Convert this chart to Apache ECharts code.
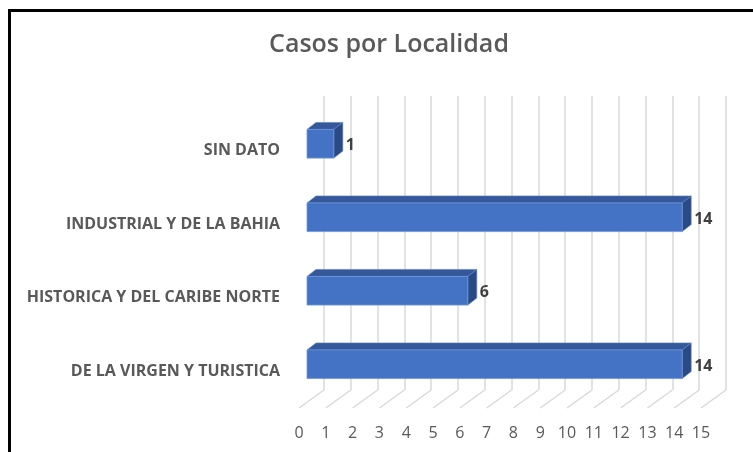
<!DOCTYPE html>
<html>
<head>
<meta charset="utf-8">
<script src="https://cdn.jsdelivr.net/npm/echarts@6/dist/echarts.min.js"></script>
<style>
html, body { margin: 0; padding: 0; background: #fff; }
#main { width: 753px; height: 452px; }
</style>
</head>
<body>
<div id="main"></div>
<script>
// datos del grafico
var localidades = ['SIN DATO', 'INDUSTRIAL Y DE LA BAHIA', 'HISTORICA Y DEL CARIBE NORTE', 'DE LA VIRGEN Y TURISTICA'];
var casos = [1, 14, 6, 14];
var ticks = [0, 1, 2, 3, 4, 5, 6, 7, 8, 9, 10, 11, 12, 13, 14, 15];

var chart = echarts.init(document.getElementById('main'));

// profundidad del "3D": pared del fondo vs plano frontal
var DX = 25, DY = 18;

function renderFloor(params, api) {
    var cs = params.coordSys;
    var x = api.coord([api.value(0), 0])[0];
    var yb = cs.y + cs.height;
    return {
        type: 'line',
        shape: { x1: x, y1: yb, x2: x - DX, y2: yb + DY },
        style: { stroke: '#d9d9d9', lineWidth: 1.5 }
    };
}

function renderBar(params, api) {
    var p0 = api.coord([0, api.value(1)]);
    var p1 = api.coord([api.value(0), api.value(1)]);
    var h = api.size([0, 1])[1] * 0.39;
    var x0 = p0[0] + 8, x1 = p1[0] + 8;
    var yc = p0[1] - 7;
    var yt = yc - h / 2, yb = yc + h / 2;
    var dx = 9, dy = -7;
    return {
        type: 'group',
        children: [
            {
                type: 'polygon',
                shape: { points: [[x0, yt], [x0 + dx, yt + dy], [x1 + dx, yt + dy], [x1, yt]] },
                style: { fill: '#34589a', stroke: '#5b80c4', lineWidth: 0.6 }
            },
            {
                type: 'polygon',
                shape: { points: [[x1, yt], [x1 + dx, yt + dy], [x1 + dx, yb + dy], [x1, yb]] },
                style: { fill: '#2a4a85', stroke: '#5b80c4', lineWidth: 0.6 }
            },
            {
                type: 'rect',
                shape: { x: x0, y: yt, width: x1 - x0, height: h },
                style: { fill: '#4472c4', stroke: '#6f95d8', lineWidth: 0.8 }
            },
            {
                type: 'text',
                x: x1 + dx + 3,
                y: yc + 2,
                style: {
                    text: String(api.value(0)),
                    fill: '#404040',
                    font: 'bold 16px "Open Sans"',
                    verticalAlign: 'middle'
                }
            }
        ]
    };
}

var option = {
    animation: false,
    title: {
        text: 'Casos por Localidad',
        left: 384,
        textAlign: 'center',
        top: 27,
        textStyle: {
            color: '#595959',
            fontFamily: 'Open Sans',
            fontWeight: 600,
            fontSize: 25
        }
    },
    graphic: [{
        type: 'rect',
        shape: { x: 9.5, y: 10.5, width: 800, height: 500 },
        style: { fill: null, stroke: '#000', lineWidth: 3 },
        silent: true
    }],
    grid: [
        { left: 324, top: 96, width: 402, height: 294 },
        { left: 299, top: 114, width: 402, height: 294 }
    ],
    xAxis: [
        {
            gridIndex: 0, type: 'value', min: 0, max: 15, interval: 1,
            axisLine: { show: false }, axisTick: { show: false },
            axisLabel: { show: false },
            splitLine: { show: true, lineStyle: { color: '#d9d9d9', width: 1.5 } }
        },
        {
            gridIndex: 1, type: 'value', min: 0, max: 15, interval: 1,
            axisLine: { show: false }, axisTick: { show: false },
            splitLine: { show: false },
            axisLabel: {
                margin: 17,
                color: '#595959',
                fontFamily: 'Open Sans',
                fontSize: 16,
                formatter: function (v) { return ticks.indexOf(v) >= 0 ? String(v) : ''; }
            }
        }
    ],
    yAxis: [
        {
            gridIndex: 0, type: 'value', min: 0, max: 1, show: false
        },
        {
            gridIndex: 1, type: 'category', data: localidades, inverse: true,
            axisLine: { show: false }, axisTick: { show: false },
            splitLine: { show: false },
            axisLabel: {
                margin: 19,
                color: '#595959',
                fontFamily: 'Open Sans',
                fontWeight: 'bold',
                fontSize: 16
            }
        }
    ],
    series: [
        {
            type: 'custom',
            xAxisIndex: 0, yAxisIndex: 0,
            renderItem: renderFloor,
            data: ticks.map(function (t) { return [t]; }),
            silent: true
        },
        {
            type: 'custom',
            xAxisIndex: 1, yAxisIndex: 1,
            renderItem: renderBar,
            encode: { x: 0, y: 1 },
            data: casos.map(function (v, i) { return [v, i]; }),
            z: 5
        }
    ]
};

chart.setOption(option);
</script>
</body>
</html>
